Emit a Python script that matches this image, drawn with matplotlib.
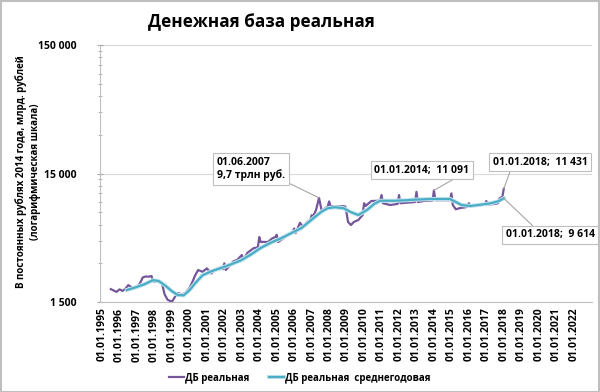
import matplotlib
matplotlib.use("Agg")
import matplotlib.pyplot as plt
import matplotlib.patheffects as pe
from matplotlib.patches import Rectangle

# ---- data ----
db_dates = [1995.50, 1995.67, 1995.83, 1996.00, 1996.17, 1996.33, 1996.50, 1996.67, 1996.83,
            1997.00, 1997.17, 1997.33, 1997.50, 1997.67, 1997.83, 1997.92, 1998.17, 1998.42,
            1998.58, 1998.75, 1999.00, 1999.17, 1999.33, 1999.58, 1999.75, 2000.00, 2000.17,
            2000.33, 2000.50, 2000.75, 2001.00, 2001.25, 2001.50, 2001.75, 2001.92, 2002.00,
            2002.08, 2002.33, 2002.50, 2002.75, 2003.00, 2003.08, 2003.33, 2003.67, 2003.92,
            2004.00, 2004.08, 2004.50, 2004.75, 2004.92, 2005.00, 2005.08, 2005.50, 2005.92,
            2006.00, 2006.08, 2006.33, 2006.50, 2006.75, 2006.92, 2007.00, 2007.08, 2007.25,
            2007.42, 2007.58, 2007.75, 2007.92, 2008.00, 2008.08, 2008.50, 2008.83, 2008.92,
            2009.00, 2009.08, 2009.25, 2009.42, 2009.67, 2009.92, 2010.00, 2010.08, 2010.42,
            2010.75, 2010.92, 2011.00, 2011.08, 2011.50, 2011.92, 2012.00, 2012.08, 2012.50,
            2012.92, 2013.00, 2013.08, 2013.50, 2013.92, 2014.00, 2014.08, 2014.50, 2014.92,
            2015.00, 2015.08, 2015.25, 2015.50, 2015.83, 2015.92, 2016.00, 2016.08, 2016.50,
            2016.92, 2017.00, 2017.08, 2017.50, 2017.67, 2017.75, 2017.92, 2018.00]
db_values = [1890, 1840, 1800, 1880, 1830, 1900, 2030, 1960, 1920,
             1960, 2100, 2330, 2370, 2360, 2390, 2170, 2160, 2110,
             1720, 1560, 1510, 1640, 1760, 1720, 1760, 1920, 2150,
             2420, 2660, 2580, 2740, 2500, 2700, 2780, 2700, 3000,
             2660, 2900, 3100, 3200, 3480, 3180, 3630, 3930, 4000,
             4800, 4400, 4400, 4700, 4800, 5000, 4400, 4820, 5300,
             5600, 5150, 6200, 5800, 6300, 6520, 7100, 6950, 7800,
             9700, 7600, 8000, 8300, 9100, 8350, 8300, 8350, 8300,
             7400, 6300, 5960, 6300, 6520, 7130, 8800, 8380, 9160,
             9200, 9300, 10200, 8800, 8530, 8700, 10200, 8800, 8900,
             9000, 10800, 9000, 9200, 9250, 11091, 9300, 9300, 9300,
             10500, 8530, 7900, 8080, 8200, 8300, 8800, 8400, 8500,
             8600, 9160, 8600, 8700, 8800, 9600, 9900, 11431]

avg_dates = [1996.42, 1996.92, 1997.42, 1997.92, 1998.25, 1998.58, 1999.00, 1999.33, 1999.67,
             2000.00, 2000.33, 2000.75, 2001.25, 2001.75, 2002.25, 2002.92, 2003.50, 2004.08,
             2004.67, 2005.25, 2005.83, 2006.42, 2007.08, 2007.58, 2007.92, 2008.33, 2008.83,
             2009.25, 2009.67, 2010.17, 2010.58, 2010.92, 2011.75, 2012.50, 2013.00, 2013.83,
             2014.92, 2015.25, 2015.58, 2016.08, 2016.75, 2017.25, 2017.67, 2018.00]
avg_values = [1860, 1950, 2060, 2220, 2180, 2030, 1820, 1700, 1690,
              1850, 2100, 2420, 2600, 2740, 2900, 3150, 3500, 3950,
              4350, 4700, 5150, 5650, 6700, 7600, 8050, 8200, 8050,
              7500, 7130, 7800, 8700, 9200, 9200, 9300, 9400, 9500,
              9500, 9000, 8530, 8380, 8600, 8800, 9100, 9614]

tick_years = list(range(1995, 2023))
tick_labels = ["01.01.%d" % y for y in tick_years]
y_major = [1500, 15000, 150000]
y_major_labels = ["1 500", "15 000", "150 000"]

series_names = ["ДБ реальная", "ДБ реальная  среднегодовая"]
title = "Денежная база реальная"
ylabel = "В постоянных рублях 2014 года, млрд. рублей\n(логарифмическая шкала)"

plt.rcParams['font.family'] = ['Open Sans', 'DejaVu Sans']
plt.rcParams['font.weight'] = 'bold'

W, H = 600, 392
fig = plt.figure(figsize=(6, 3.92), dpi=100)
fig.patch.set_facecolor('white')
ax = fig.add_axes([100 / W, 1 - 302 / H, 492 / W, 257 / H])

purple = '#75569A'
teal = '#4BACC6'

ax.plot(db_dates, db_values, color=purple, lw=1.6, solid_joinstyle='round', zorder=3,
        label=series_names[0])
ax.plot(avg_dates, avg_values, color=teal, lw=1.6, zorder=4, label=series_names[1],
        path_effects=[pe.Stroke(linewidth=3.0, foreground='#C5E5EE'), pe.Normal()])

ax.set_yscale('log')
ax.set_ylim(1500, 150000)
ax.set_xlim(1994.88, 2023.05)

ax.set_yticks(y_major)
ax.set_yticklabels(y_major_labels, fontsize=7.5, fontweight='bold')
minor = [k * m for m in (1500, 15000) for k in range(2, 10)]
ax.set_yticks(minor, minor=True)
ax.yaxis.set_minor_formatter(matplotlib.ticker.NullFormatter())
ax.tick_params(axis='y', which='major', length=4, direction='inout', color='#A6A6A6', pad=15)
ax.tick_params(axis='y', which='minor', length=3, direction='inout', color='#A6A6A6')

ax.set_xticks(tick_years)
ax.set_xticklabels(tick_labels, rotation=90, fontsize=7.5, fontweight='bold')
ax.tick_params(axis='x', length=0, pad=4)
ax.grid(axis='y', which='major', color='#D9D9D9', lw=0.8)
for s in ('top', 'right'):
    ax.spines[s].set_visible(False)
for s in ('left', 'bottom'):
    ax.spines[s].set_color('#BFBFBF')
    ax.spines[s].set_linewidth(0.8)

fig.text(261 / W, 1 - 22 / H, title, ha='center', va='center', fontsize=12.3, fontweight='bold')
fig.text(28 / W, 1 - 172 / H, ylabel, rotation=90, ha='center', va='center',
         fontsize=7, fontweight='bold', multialignment='center', linespacing=1.3)

bbox = dict(boxstyle='square,pad=0.35', fc='white', ec='#BFBFBF', lw=0.8)


def ann(xy, txt, pix, relpos):
    ax.annotate(txt, xy=xy, xytext=(pix[0], H - pix[1]), textcoords='figure pixels',
                ha='center', va='center', fontsize=7.5, fontweight='bold', bbox=bbox,
                multialignment='left', zorder=6,
                arrowprops=dict(arrowstyle='-', color='#A6A6A6', lw=0.8, relpos=relpos,
                                shrinkA=0, shrinkB=0))


ann((2007.42, 9700), "01.06.2007\n9,7 трлн руб.", (251, 169), (1.0, 0.0))
ann((2014.00, 11091), "01.01.2014;  11 091", (422, 170), (0.9, 0.0))
ann((2018.00, 11431), "01.01.2018;  11 431", (540, 162), (0.2, 0.0))
ann((2018.00, 9614), "01.01.2018;  9 614", (550, 235), (0.35, 1.0))

fig.legend(loc='center', bbox_to_anchor=(300 / W, 1 - 378 / H), ncol=2, frameon=False,
           handlelength=1.5, handletextpad=0.15, columnspacing=2.0,
           prop={'weight': 'bold', 'size': 7})

fig.patches.append(Rectangle((0.001, 0.001), 0.997, 0.997, transform=fig.transFigure,
                             fill=False, ec='#BFBFBF', lw=1.5))

fig.savefig('out.png', dpi=100)
